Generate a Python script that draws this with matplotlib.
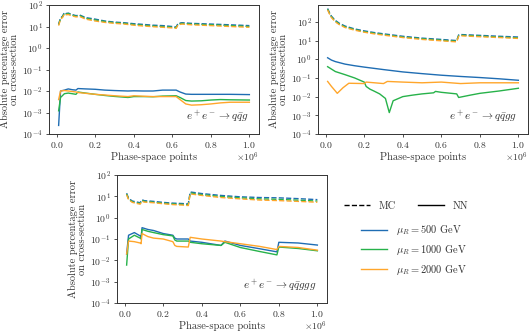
import matplotlib
matplotlib.use("Agg")
import matplotlib.pyplot as plt
from matplotlib.lines import Line2D

plt.rcParams["font.family"] = "serif"
plt.rcParams["font.serif"] = ["cmr10", "DejaVu Serif"]
plt.rcParams["mathtext.fontset"] = "cm"
plt.rcParams["axes.formatter.use_mathtext"] = True
plt.rcParams["axes.unicode_minus"] = False

BLUE = "#1f6db3"
GREEN = "#27b24a"
ORANGE = "#ffa62b"

# ---------- e+e- -> q qbar g ----------
x1_mc = [0.01, 0.02, 0.03, 0.04, 0.05, 0.06, 0.08, 0.10, 0.12, 0.15, 0.20, 0.25, 0.30,
         0.35, 0.40, 0.45, 0.50, 0.55, 0.60, 0.62, 0.63, 0.65, 0.70, 0.80, 0.90, 1.00]
g1_mc_500 = [13, 25, 30, 45, 40, 42, 36, 32, 34, 26, 22, 18, 16, 15, 13.5, 12.5, 11.5,
             11, 10, 9.5, 14, 15, 14, 13, 12, 11]
g1_mc_1000 = [12, 24, 28, 42, 38, 40, 34, 30, 32, 24, 20, 17, 15, 14, 12.5, 11.5, 10.5,
              10, 9.2, 8.8, 13, 14, 13, 12, 11, 10]
g1_mc_2000 = [11, 22, 26, 38, 35, 36, 31, 28, 29, 22, 18, 15.5, 14, 13, 11.5, 10.5, 9.8,
              9.2, 8.6, 8.2, 12, 13, 12, 11, 10, 9.2]

x1_nn = [0.01, 0.02, 0.04, 0.06, 0.08, 0.10, 0.11, 0.15, 0.20, 0.25, 0.30, 0.37, 0.40,
         0.45, 0.50, 0.55, 0.62, 0.64, 0.67, 0.70, 0.75, 0.80, 0.85, 0.90, 1.00]
g1_nn_500 = [2.5e-4, 1.0e-2, 1.1e-2, 1.25e-2, 1.15e-2, 1.1e-2, 1.3e-2, 1.25e-2, 1.2e-2,
             1.1e-2, 1.05e-2, 1.0e-2, 1.02e-2, 1.0e-2, 1.0e-2, 1.1e-2, 1.1e-2, 9e-3,
             7.2e-3, 7e-3, 7e-3, 7e-3, 7e-3, 7e-3, 6.8e-3]
g1_nn_1000 = [1.2e-3, 5e-3, 7.5e-3, 8e-3, 7.5e-3, 7e-3, 9e-3, 8e-3, 7e-3, 6.2e-3,
              5.6e-3, 5.0e-3, 5.5e-3, 5.5e-3, 5.4e-3, 5.8e-3, 6e-3, 5e-3, 3.6e-3,
              3.4e-3, 3.5e-3, 3.8e-3, 4e-3, 3.9e-3, 3.8e-3]
g1_nn_2000 = [4e-3, 1.0e-2, 1.05e-2, 1.0e-2, 9.5e-3, 9e-3, 8.5e-3, 7.8e-3, 7e-3, 6.5e-3,
              6e-3, 5.5e-3, 6e-3, 5.7e-3, 5.5e-3, 5.5e-3, 5.5e-3, 4e-3, 2.5e-3,
              2.2e-3, 2.3e-3, 2.5e-3, 2.8e-3, 3e-3, 3e-3]

# ---------- e+e- -> q qbar g g ----------
x2_mc = [0.01, 0.02, 0.03, 0.05, 0.07, 0.10, 0.15, 0.20, 0.25, 0.30, 0.40, 0.50, 0.60,
         0.68, 0.69, 0.70, 0.80, 0.90, 1.00]
g2_mc_500 = [520, 300, 200, 120, 85, 60, 42, 33, 27, 23, 17, 13.5, 11.5, 10, 20, 21,
             19, 17, 15.5]
g2_mc_1000 = [480, 280, 185, 110, 78, 55, 39, 30, 25, 21, 15.5, 12.5, 10.5, 9.2, 18.5,
              19.5, 17.5, 15.5, 14]
g2_mc_2000 = [440, 260, 170, 100, 72, 50, 36, 28, 23, 19.5, 14.5, 11.5, 9.7, 8.5, 17,
              18, 16, 14.5, 13]

x2_nn_a = [0.01, 0.03, 0.05, 0.10, 0.15, 0.20, 0.30, 0.40, 0.50, 0.60, 0.70, 0.80, 0.90,
           1.00]
g2_nn_500 = [1.2, 0.9, 0.75, 0.55, 0.45, 0.38, 0.28, 0.21, 0.17, 0.14, 0.12, 0.105,
             0.09, 0.075]
x2_nn_b = [0.01, 0.05, 0.10, 0.15, 0.20, 0.21, 0.23, 0.25, 0.28, 0.31, 0.33, 0.35, 0.40,
           0.45, 0.50, 0.56, 0.57, 0.60, 0.68, 0.69, 0.75, 0.80, 0.90, 1.00]
g2_nn_1000 = [0.4, 0.22, 0.15, 0.1, 0.06, 0.035, 0.025, 0.02, 0.014, 0.008, 0.0014,
              0.006, 0.01, 0.012, 0.014, 0.016, 0.019, 0.017, 0.014, 0.009, 0.012,
              0.015, 0.02, 0.028]
x2_nn_c = [0.01, 0.03, 0.05, 0.06, 0.09, 0.12, 0.20, 0.21, 0.30, 0.32, 0.40, 0.50, 0.60,
           0.70, 0.80, 0.90, 1.00]
g2_nn_2000 = [0.065, 0.035, 0.02, 0.015, 0.03, 0.052, 0.05, 0.06, 0.05, 0.065, 0.06,
              0.055, 0.06, 0.05, 0.055, 0.055, 0.055]

# ---------- e+e- -> q qbar g g g ----------
x3_mc = [0.01, 0.02, 0.04, 0.06, 0.08, 0.09, 0.10, 0.15, 0.20, 0.25, 0.30, 0.33, 0.34,
         0.40, 0.50, 0.60, 0.70, 0.80, 0.90, 1.00]
g3_mc_500 = [14, 8, 6, 5.5, 5, 7, 6.3, 5.8, 5.2, 4.8, 4.6, 4.4, 16, 13.5, 11, 9.5, 8.8,
             8.5, 7.8, 7]
g3_mc_1000 = [13, 7.5, 5.5, 5, 4.6, 6.5, 5.8, 5.3, 4.8, 4.4, 4.2, 4.0, 14.5, 12, 9.8,
              8.5, 7.6, 7.2, 6.6, 6]
g3_mc_2000 = [12, 7, 5.2, 4.7, 4.3, 6, 5.4, 5, 4.5, 4.1, 3.9, 3.7, 13, 11, 8.8, 7.6,
              6.7, 6.3, 5.8, 5.3]

x3_nn = [0.01, 0.02, 0.05, 0.08, 0.085, 0.09, 0.12, 0.15, 0.20, 0.25, 0.26, 0.27, 0.33,
         0.34, 0.40, 0.50, 0.52, 0.60, 0.70, 0.79, 0.80, 0.90, 1.00]
g3_nn_500 = [0.02, 0.15, 0.2, 0.14, 0.12, 0.34, 0.28, 0.25, 0.18, 0.15, 0.11, 0.1, 0.1,
             0.08, 0.07, 0.05, 0.08, 0.05, 0.035, 0.025, 0.07, 0.065, 0.052]
g3_nn_1000 = [0.006, 0.1, 0.15, 0.11, 0.1, 0.28, 0.23, 0.2, 0.16, 0.14, 0.09, 0.08,
              0.08, 0.07, 0.06, 0.05, 0.07, 0.04, 0.026, 0.018, 0.042, 0.036, 0.028]
g3_nn_2000 = [0.02, 0.08, 0.075, 0.065, 0.06, 0.18, 0.13, 0.11, 0.1, 0.075, 0.05, 0.045,
              0.042, 0.12, 0.1, 0.08, 0.075, 0.06, 0.045, 0.032, 0.045, 0.04, 0.03]

labels = [r"$\mu_R = 500$ GeV", r"$\mu_R = 1000$ GeV", r"$\mu_R = 2000$ GeV"]
colors = [BLUE, GREEN, ORANGE]

panels = [
    (x1_mc, [g1_mc_500, g1_mc_1000, g1_mc_2000],
     [x1_nn, x1_nn, x1_nn], [g1_nn_500, g1_nn_1000, g1_nn_2000],
     r"$e^+e^- \to q\bar{q}g$", (1e-4, 1e2)),
    (x2_mc, [g2_mc_500, g2_mc_1000, g2_mc_2000],
     [x2_nn_a, x2_nn_b, x2_nn_c], [g2_nn_500, g2_nn_1000, g2_nn_2000],
     r"$e^+e^- \to q\bar{q}gg$", (1e-4, 8e2)),
    (x3_mc, [g3_mc_500, g3_mc_1000, g3_mc_2000],
     [x3_nn, x3_nn, x3_nn], [g3_nn_500, g3_nn_1000, g3_nn_2000],
     r"$e^+e^- \to q\bar{q}ggg$", (1e-4, 1e2)),
]

W, H = 531, 331
fig = plt.figure(figsize=(W / 100, H / 100), dpi=100)
rects = [
    [49 / W, (H - 134) / H, 210 / W, 129 / H],
    [318 / W, (H - 134) / H, 210 / W, 129 / H],
    [117 / W, (H - 303) / H, 210 / W, 128 / H],
]
TXT = "#333333"

for rect, (xmc, ymc, xnn, ynn, title, ylim) in zip(rects, panels):
    ax = fig.add_axes(rect)
    for i in range(3):
        ax.plot([v * 1e6 for v in xmc], ymc[i], "--", color=colors[i], lw=1.0)
        ax.plot([v * 1e6 for v in xnn[i]], ynn[i], "-", color=colors[i], lw=1.0)
    ax.set_yscale("log")
    ax.set_ylim(*ylim)
    ax.set_yticks([10.0 ** k for k in range(-4, 3)])
    ax.yaxis.set_minor_locator(matplotlib.ticker.NullLocator())
    ax.set_xlim(-0.04e6, 1.05e6)
    ax.set_xticks([0, 0.2e6, 0.4e6, 0.6e6, 0.8e6, 1.0e6])
    ax.ticklabel_format(axis="x", style="sci", scilimits=(0, 0))
    ax.xaxis.get_offset_text().set_visible(False)
    ax.text(1.0, -0.125, r"$\times10^{6}$", transform=ax.transAxes, ha="right",
            va="top", fontsize=7, color=TXT)
    ax.tick_params(labelsize=7, length=2.5, width=0.6, colors=TXT, pad=2)
    for s in ax.spines.values():
        s.set_linewidth(0.7)
        s.set_color(TXT)
    ax.set_xlabel("Phase-space points", fontsize=7.5, labelpad=1, color=TXT)
    ax.set_ylabel("Absolute percentage error\non cross-section", fontsize=7.5,
                  labelpad=2, color=TXT, linespacing=1.0)
    ax.text(0.95, 0.07, title, transform=ax.transAxes, ha="right", va="bottom",
            fontsize=8, color=TXT)

style_handles = [Line2D([], [], color="black", ls="--", lw=1.0),
                 Line2D([], [], color="black", ls="-", lw=1.0)]
fig.legend(style_handles, ["MC", "NN"], ncol=2, frameon=False, fontsize=7.5,
           loc="center", bbox_to_anchor=(406 / W, (H - 206) / H),
           handlelength=2.5, handletextpad=0.8, columnspacing=2.2, labelcolor=TXT)
col_handles = [Line2D([], [], color=c, lw=1.0) for c in colors]
fig.legend(col_handles, labels, frameon=False, fontsize=7.5, loc="center",
           bbox_to_anchor=(414 / W, (H - 250) / H), handlelength=2.5,
           handletextpad=0.8, labelspacing=0.55, labelcolor=TXT)

fig.savefig("out.png", dpi=100)
